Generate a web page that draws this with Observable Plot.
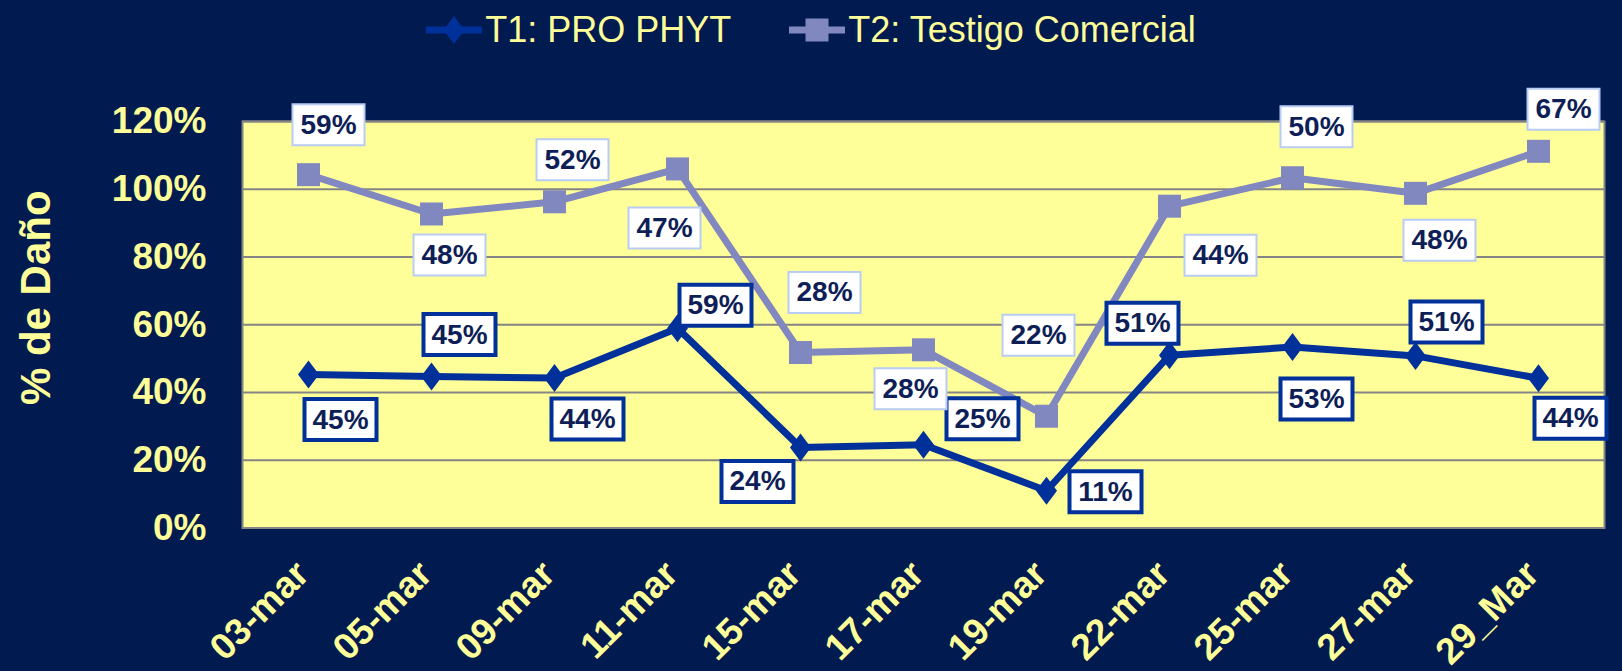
<!DOCTYPE html>
<html><head><meta charset="utf-8">
<script src="https://cdn.jsdelivr.net/npm/d3@7"></script>
<script src="https://cdn.jsdelivr.net/npm/@observablehq/plot@0.6"></script>
<style>
html,body{margin:0;padding:0;background:#011A4F;width:1622px;height:671px;overflow:hidden}
#legend{height:60px;display:flex;justify-content:center;align-items:center;gap:58px;font-family:"Liberation Sans",Arial,sans-serif;font-size:36px;color:#FFFF99;box-sizing:border-box}
.item{display:flex;align-items:center;gap:3px}
#chart svg{display:block}
</style></head><body>
<div id="legend"></div>
<div id="chart"></div>
<script>
// ---- data ----
const dates = ["03-mar","05-mar","09-mar","11-mar","15-mar","17-mar","19-mar","22-mar","25-mar","27-mar","29_Mar"];
const seriesNames = ["T1: PRO PHYT","T2: Testigo Comercial"];
const t1Values = [0.453,0.447,0.443,0.59,0.238,0.246,0.11,0.51,0.534,0.508,0.442];
const t2Values = [0.59,0.48,0.52,0.47,0.28,0.28,0.22,0.44,0.50,0.48,0.67];
const yTicks = [0,0.2,0.4,0.6,0.8,1.0,1.2];
const yTitle = "% de Daño";
// label offsets (pixels from the point)
const t1LabelOffsets = [[32,45],[28,-42],[33,41],[38,-23],[-43,34],[59,-26],[59,1],[-27,-32],[24,52],[31,-34],[32,40]];
const t2LabelOffsets = [[20,-50],[18,41],[18,-42],[-13,59],[24,-60],[-13,39],[-8,-81],[51,49],[24,-51],[24,47],[25,-42]];

// ---- styles ----
const bg = "#011A4F", pale = "#FFFF99";
const c1 = "#00309A", c2 = "#8187BF";
const labelInk = "#0E1E57";
const font = "'Liberation Sans', Arial, sans-serif";

// ---- table ----
const rows = [
  ...dates.map((d, i) => ({date: d, series: seriesNames[0], value: t1Values[i], i})),
  ...dates.map((d, i) => ({date: d, series: seriesNames[1], value: t2Values[i], i}))
];
const pct = d3.format(".0%");

const diamondSym = {draw(ctx) { ctx.moveTo(0, -14); ctx.lineTo(10.5, 0); ctx.lineTo(0, 14); ctx.lineTo(-10.5, 0); ctx.closePath(); }};
const squareSym = {draw(ctx) { ctx.rect(-11.5, -11.5, 23, 23); }};
const boxSym = {draw(ctx) { ctx.rect(-36, -20.5, 72, 41); }};

const st = (o) => Plot.stackY2({x: "date", y: "value", z: "series", ...o});

const labelMarks = [];
rows.forEach((row) => {
  const isT1 = row.series === seriesNames[0];
  const [dx, dy] = (isT1 ? t1LabelOffsets : t2LabelOffsets)[row.i];
  labelMarks.push(Plot.dot(rows, st({
    r: d => d === row ? 1 : 0, symbol: boxSym, dx, dy,
    fill: "white", stroke: isT1 ? c1 : "#B9CCF4", strokeWidth: isT1 ? 4 : 2
  })));
  labelMarks.push(Plot.text(rows, st({
    text: d => d === row ? pct(d.value) : "", dx, dy,
    fontSize: 28, fontWeight: "bold", fill: labelInk, fontFamily: font
  })));
});

const chart = Plot.plot({
  width: 1622, height: 611,
  marginTop: 61, marginBottom: 143.5, marginLeft: 242, marginRight: 18,
  style: {background: bg, color: pale, fontFamily: font},
  x: {type: "point", domain: dates, padding: 0.5},
  y: {domain: [0, 1.2]},
  color: {domain: seriesNames, range: [c1, c2]},
  marks: [
    Plot.frame({fill: pale}),
    Plot.gridY(yTicks, {stroke: "#858585", strokeOpacity: 1, strokeWidth: 2}),
    Plot.frame({stroke: "#858585", strokeWidth: 2}),
    Plot.axisY({ticks: yTicks, tickFormat: pct, tickSize: 0, tickPadding: 36, fontSize: 37, fontWeight: "bold", label: null}),
    Plot.axisX({tickRotate: -45, tickSize: 0, tickPadding: 40, dx: -6, fontSize: 37, fontWeight: "bold", label: null}),
    Plot.text([yTitle], {frameAnchor: "left", textAnchor: "middle", dx: -206, dy: -27, rotate: -90, fontSize: 42, fontWeight: "bold", fill: pale}),
    Plot.lineY(rows, st({stroke: "series", strokeWidth: 7, strokeLinejoin: "round"})),
    Plot.dot(rows, st({r: d => d.series === seriesNames[1] ? 1 : 0, symbol: squareSym, fill: c2, stroke: "none"})),
    Plot.dot(rows, st({r: d => d.series === seriesNames[0] ? 1 : 0, symbol: diamondSym, fill: c1, stroke: "none"})),
    ...labelMarks
  ]
});
document.getElementById("chart").appendChild(chart);

// ---- legend ----
const legend = d3.select("#legend");
seriesNames.forEach((name, k) => {
  const it = legend.append("div").attr("class", "item");
  const s = it.append("svg").attr("width", 56).attr("height", 40);
  s.append("line").attr("x1", 0).attr("x2", 56).attr("y1", 20).attr("y2", 20)
    .attr("stroke", k ? c2 : c1).attr("stroke-width", 7);
  if (k) s.append("rect").attr("x", 16.5).attr("y", 8.5).attr("width", 23).attr("height", 23).attr("fill", c2);
  else s.append("path").attr("d", "M28,6L38.5,20L28,34L17.5,20Z").attr("fill", c1);
  it.append("span").text(name);
});
</script>
</body></html>
